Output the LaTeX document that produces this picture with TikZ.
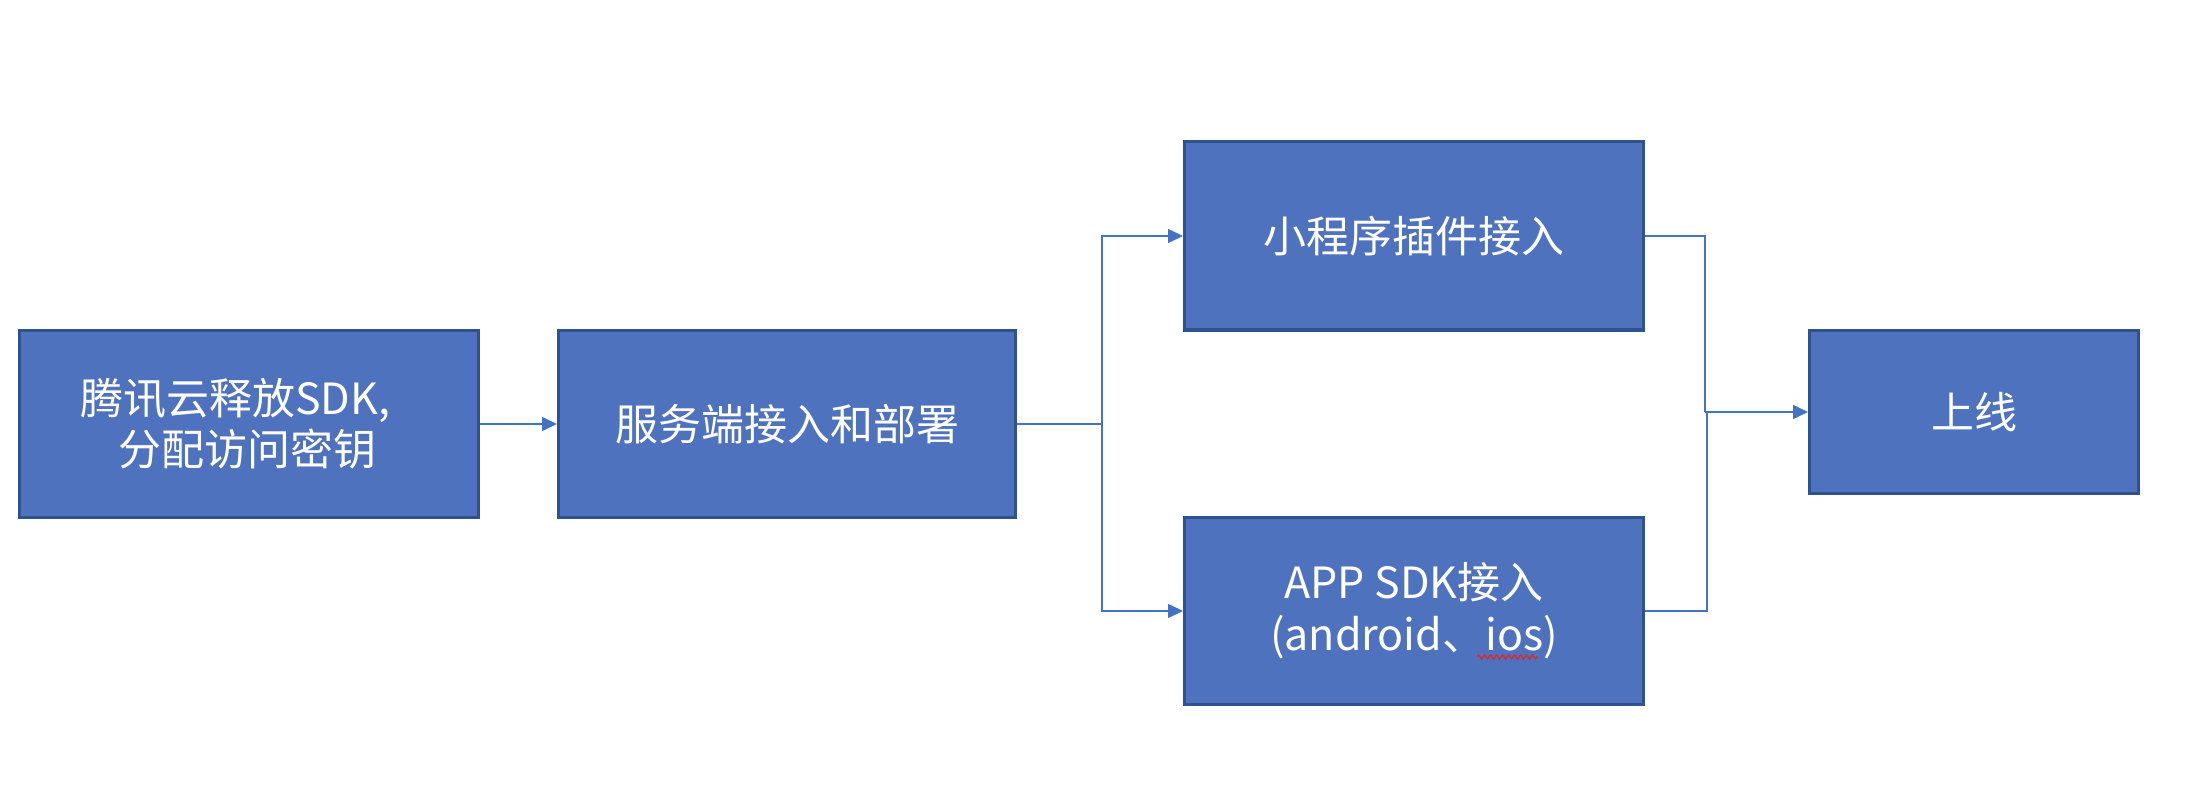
\documentclass[tikz,border=0pt]{standalone}
\usepackage{fontspec}
\setmainfont{Noto Sans CJK SC}
\usetikzlibrary{arrows.meta,decorations.pathmorphing}
\definecolor{boxfill}{RGB}{79,114,190}
\definecolor{boxline}{RGB}{47,82,143}
\definecolor{connc}{RGB}{68,114,196}
\definecolor{spellred}{RGB}{220,40,40}
\begin{document}
\begin{tikzpicture}[x=1pt,y=-1pt,
  box/.style={draw=boxline,line width=3pt,fill=boxfill,text=white,
    font=\fontsize{43}{51}\selectfont,align=center,inner sep=0pt},
  conn/.style={draw=connc,line width=1.6pt},
  arr/.style={conn,-{Triangle[length=15pt,width=14pt]}}]
\useasboundingbox (0,0) rectangle (2206,786);
\node[box,minimum width=459pt,minimum height=187pt,align=left] (b1) at (249,424)
  {腾讯云释放SDK,\hspace*{28pt}\\\hspace*{38pt}分配访问密钥};
\node[box,minimum width=457pt,minimum height=187pt] (b2) at (787,424) {服务端接入和部署};
\node[box,minimum width=459pt,minimum height=188pt] (b3) at (1414,236) {小程序插件接入};
\node[box,minimum width=459pt,minimum height=187pt,font=\fontsize{43}{52}\selectfont] (b4) at (1414,611)
  {APP SDK接入\\(android、ios)};
\node[box,minimum width=329pt,minimum height=163pt] (b5) at (1974,412) {上线};
\coordinate (split) at (1102,424);
\coordinate (jt) at (1705,236);
\coordinate (jb) at (1707,611);
\coordinate (jm) at (1705,412);
\draw[arr] (b1.east) -- (b2.west);
\draw[conn] (b2.east) -- (split);
\draw[arr] (split) |- (b3.west);
\draw[arr] (split) |- (b4.west);
\draw[conn] (b3.east) -- (jt) -- (jm);
\draw[conn] (b4.east) -- (jb) |- (jm);
\draw[arr] (jm) -- (b5.west);
\draw[spellred,line width=1.3pt,decorate,decoration={zigzag,amplitude=2pt,segment length=6pt}]
  ([xshift=63pt,yshift=-46pt]b4.center) -- ([xshift=124pt,yshift=-46pt]b4.center);
\end{tikzpicture}
\end{document}
